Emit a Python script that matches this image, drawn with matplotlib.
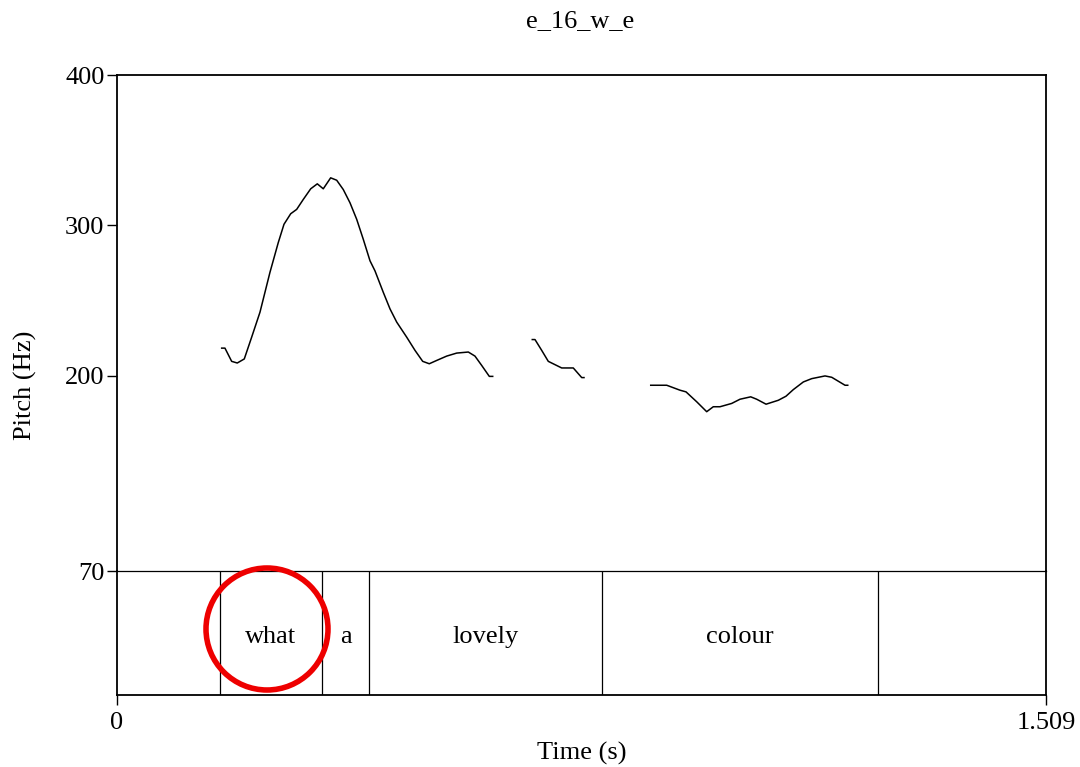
import matplotlib
matplotlib.use("Agg")
import matplotlib.pyplot as plt
from matplotlib.patches import Circle
import numpy as np

plt.rcParams['font.family'] = ['Liberation Serif', 'DejaVu Serif']

title = "e_16_w_e"
t_max = 1.509

# pitch contour pieces (time s, pitch Hz)
seg1_t = [0.1701, 0.1754, 0.1863, 0.1954, 0.2068, 0.2188, 0.2323, 0.2485, 0.2620, 0.2713,
          0.2822, 0.2919, 0.3026, 0.3147, 0.3254, 0.3351, 0.3471, 0.3569, 0.3676, 0.3785,
          0.3894, 0.4001, 0.4110, 0.4191, 0.4326, 0.4435, 0.4544, 0.4706, 0.4841, 0.4966,
          0.5073, 0.5193, 0.5356, 0.5518, 0.5707, 0.5815, 0.5924, 0.6048, 0.6103]
seg1_f = [218.3, 218.3, 209.5, 208.4, 211.1, 225.6, 242.2, 268.7, 288.5, 300.7,
          307.7, 310.6, 317.2, 324.3, 327.6, 324.3, 331.6, 330.0, 323.8, 315.0,
          304.0, 290.7, 276.4, 269.7, 255.4, 244.4, 235.6, 225.6, 216.8, 209.5,
          207.9, 210.1, 213.0, 215.0, 215.7, 213.0, 206.8, 199.5, 199.5]

seg2_t = [0.6746, 0.6790, 0.6899, 0.7006, 0.7224, 0.7412, 0.7549, 0.7586]
seg2_f = [224.0, 224.0, 216.8, 209.5, 205.1, 205.1, 198.7, 198.7]

seg3_t = [0.8670, 0.8930, 0.9146, 0.9243, 0.9417, 0.9579, 0.9686, 0.9795, 0.9985, 1.0120,
          1.0294, 1.0391, 1.0543, 1.0742, 1.0867, 1.0986, 1.1149, 1.1285, 1.1501, 1.1610,
          1.1826, 1.1870]
seg3_f = [193.6, 193.6, 190.3, 189.2, 182.6, 176.0, 179.3, 179.3, 181.5, 184.3,
          185.9, 184.3, 181.0, 183.6, 186.3, 190.7, 195.8, 198.0, 199.8, 198.9,
          193.6, 193.6]

# word tier
bounds = [0.1673, 0.3330, 0.4094, 0.7878, 1.2362]
words = ["what", "a", "lovely", "colour"]

y_ticks = [70, 200, 300, 400]
fs = 19

fig = plt.figure(figsize=(10.8, 7.67), dpi=100)
tier = fig.add_axes([0.1083, 0.0939, 0.8602, 0.1616])
ax = fig.add_axes([0.1083, 0.2555, 0.8602, 0.6467], sharex=tier)
ax.patch.set_visible(False)

for tt, ff in [(seg1_t, seg1_f), (seg2_t, seg2_f), (seg3_t, seg3_f)]:
    ax.plot(tt, ff, color='black', lw=1.1)

ax.set_xlim(0, t_max)
ax.set_ylim(70, 400)
ax.set_yticks(y_ticks)
ax.set_yticklabels([str(v) for v in y_ticks], fontsize=fs)
ax.tick_params(axis='y', direction='out', length=7, width=1, pad=2)
ax.tick_params(axis='x', bottom=False, labelbottom=False)
for s in ax.spines.values():
    s.set_linewidth(1.3)
ax.spines['bottom'].set_linewidth(0.9)

tier.set_ylim(0, 1)
tier.set_yticks([])
for b in bounds:
    tier.axvline(b, color='black', lw=0.9)
for i, w in enumerate(words):
    tier.text((bounds[i] + bounds[i + 1]) / 2, 0.47, w, ha='center', va='center', fontsize=fs)
tier.set_xticks([0, t_max])
tier.set_xticklabels(["0", "1.509"], fontsize=fs)
tier.tick_params(axis='x', direction='out', length=7, width=1, pad=5)
for s in tier.spines.values():
    s.set_linewidth(1.3)
tier.spines['top'].set_visible(False)
tier.set_xlabel("Time (s)", fontsize=fs, labelpad=6)

fig.text(0.5375, 0.972, title, ha='center', va='center', fontsize=fs)
fig.text(0.024, 0.498, "Pitch (Hz)", ha='center', va='center', rotation=90, fontsize=fs)

# red highlight circle (inches from bottom-left)
fig.add_artist(Circle((2.67, 1.38), 0.61, transform=fig.dpi_scale_trans,
                      fill=False, edgecolor='#ee0000', lw=4.0))

fig.savefig("out.png", dpi=100)
